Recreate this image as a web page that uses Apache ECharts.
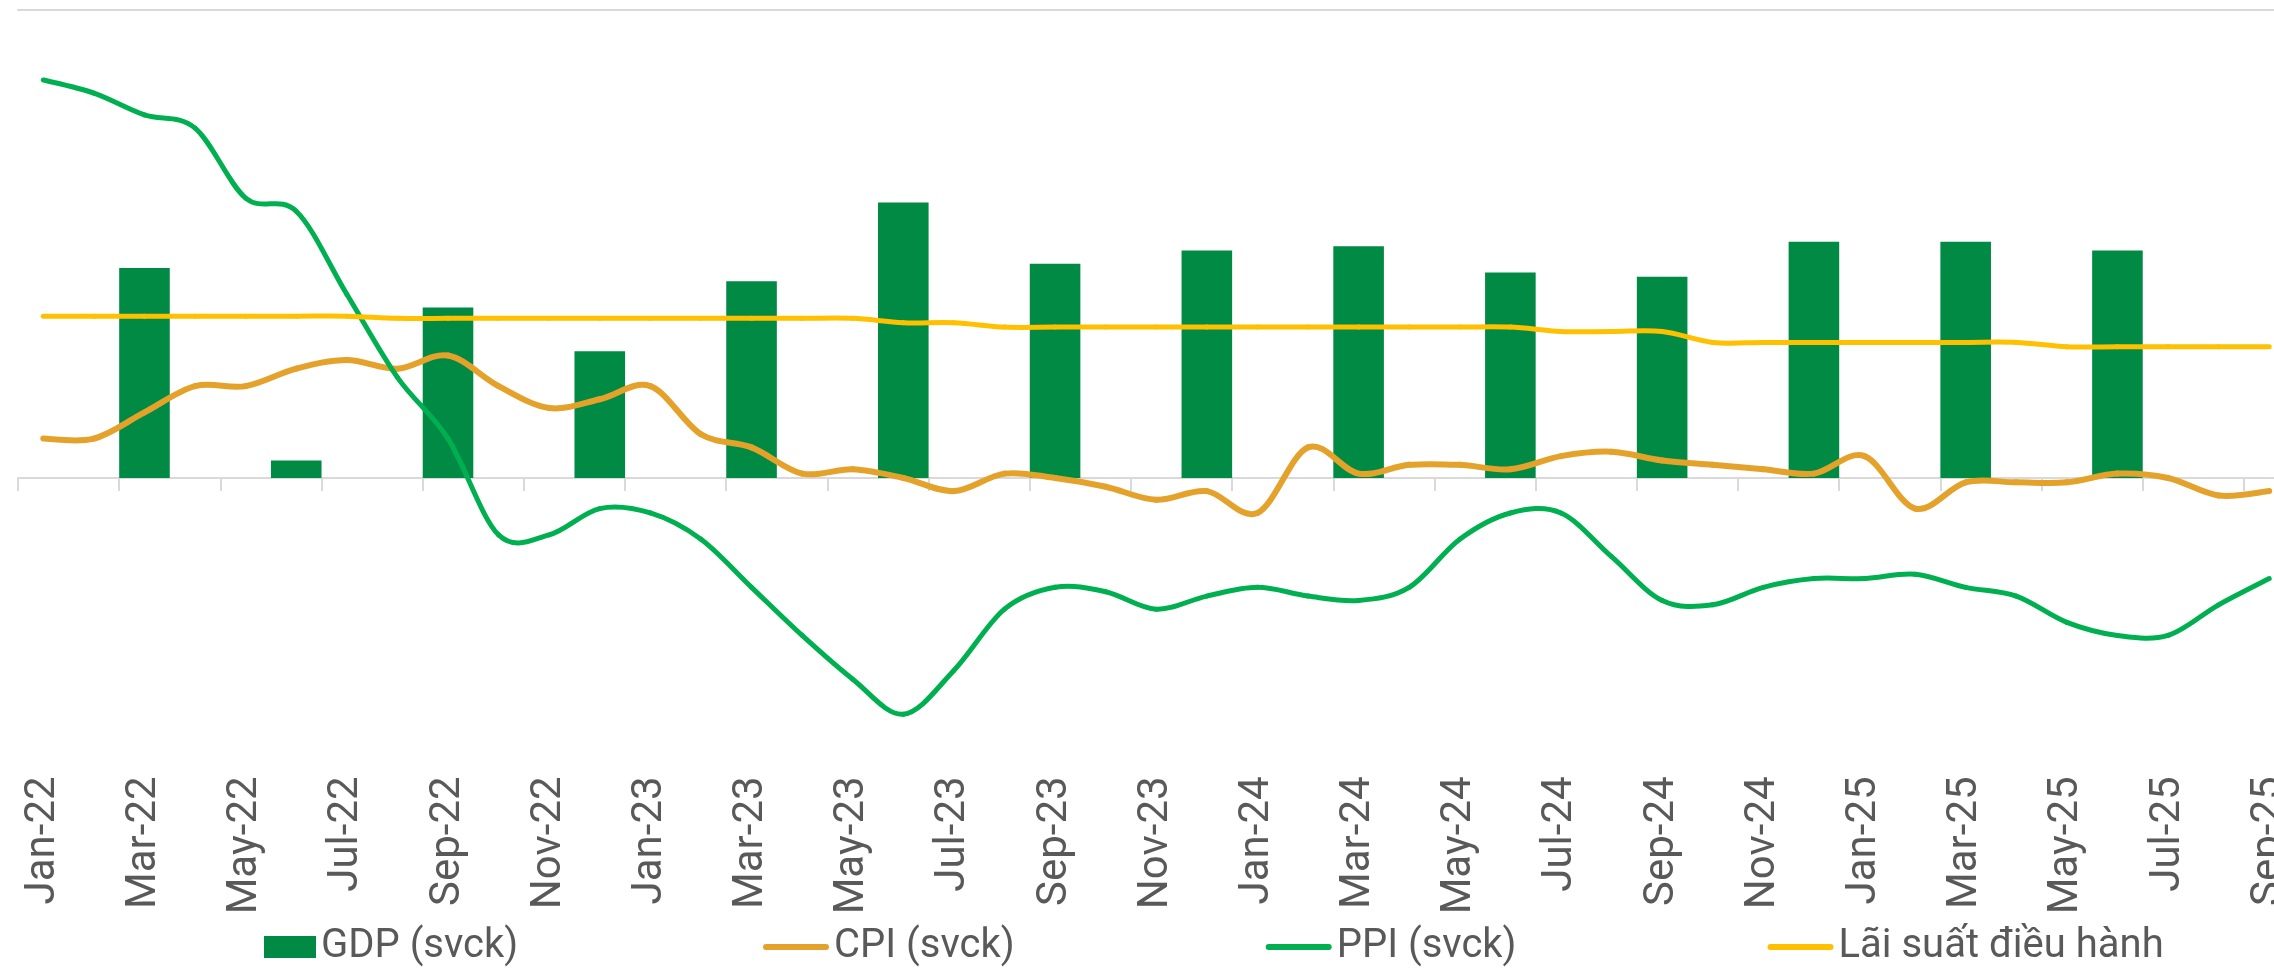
<!DOCTYPE html>
<html>
<head>
<meta charset="utf-8">
<script src="https://cdn.jsdelivr.net/npm/echarts@6/dist/echarts.min.js"></script>
<style>
html,body{margin:0;padding:0;background:#ffffff;}
#chart{width:2274px;height:971px;}
</style>
</head>
<body>
<div id="chart"></div>
<script>
// ---- Data ----
const months = [
  'Jan-22','Feb-22','Mar-22','Apr-22','May-22','Jun-22','Jul-22','Aug-22','Sep-22','Oct-22','Nov-22','Dec-22',
  'Jan-23','Feb-23','Mar-23','Apr-23','May-23','Jun-23','Jul-23','Aug-23','Sep-23','Oct-23','Nov-23','Dec-23',
  'Jan-24','Feb-24','Mar-24','Apr-24','May-24','Jun-24','Jul-24','Aug-24','Sep-24','Oct-24','Nov-24','Dec-24',
  'Jan-25','Feb-25','Mar-25','Apr-25','May-25','Jun-25','Jul-25','Aug-25','Sep-25'
];

// GDP growth (y/y), quarterly — shown on the last month of each quarter
const gdp = [
  null, null, 4.8, null, null, 0.4, null, null, 3.9, null, null, 2.9,
  null, null, 4.5, null, null, 6.3, null, null, 4.9, null, null, 5.2,
  null, null, 5.3, null, null, 4.7, null, null, 4.6, null, null, 5.4,
  null, null, 5.4, null, null, 5.2, null, null, null
];

// CPI (y/y)
const cpi = [
  0.9, 0.9, 1.5, 2.1, 2.1, 2.5, 2.7, 2.5, 2.8, 2.1, 1.6, 1.8,
  2.1, 1.0, 0.7, 0.1, 0.2, 0.0, -0.3, 0.1, 0.0, -0.2, -0.5, -0.3,
  -0.8, 0.7, 0.1, 0.3, 0.3, 0.2, 0.5, 0.6, 0.4, 0.3, 0.2, 0.1,
  0.5, -0.7, -0.1, -0.1, -0.1, 0.1, 0.0, -0.4, -0.3
];

// PPI (y/y)
const ppi = [
  9.1, 8.8, 8.3, 8.0, 6.4, 6.1, 4.2, 2.3, 0.9, -1.3, -1.3, -0.7,
  -0.8, -1.4, -2.5, -3.6, -4.6, -5.4, -4.4, -3.0, -2.5, -2.6, -3.0, -2.7,
  -2.5, -2.7, -2.8, -2.5, -1.4, -0.8, -0.8, -1.8, -2.8, -2.9, -2.5, -2.3,
  -2.3, -2.2, -2.5, -2.7, -3.3, -3.6, -3.6, -2.9, -2.3
];

// Policy rate
const policyRate = [
  3.7, 3.7, 3.7, 3.7, 3.7, 3.7, 3.7, 3.65, 3.65, 3.65, 3.65, 3.65,
  3.65, 3.65, 3.65, 3.65, 3.65, 3.55, 3.55, 3.45, 3.45, 3.45, 3.45, 3.45,
  3.45, 3.45, 3.45, 3.45, 3.45, 3.45, 3.35, 3.35, 3.35, 3.1, 3.1, 3.1,
  3.1, 3.1, 3.1, 3.1, 3.0, 3.0, 3.0, 3.0, 3.0
];

const seriesNames = ['GDP (svck)', 'CPI (svck)', 'PPI (svck)', 'Lãi suất điều hành'];

// ---- Chart ----
const chart = echarts.init(document.getElementById('chart'), null, {renderer: 'canvas'});

const axisGrey = '#d9d9d9';
const textGrey = '#595959';
const lineIcon = 'path://M3,0 H63 A3,3 0 0 1 63,6 H3 A3,3 0 0 1 3,0 Z';
const legendText = {fontFamily: 'Roboto', fontSize: 40, color: textGrey};

// Spline like a spreadsheet "smoothed line": Catmull-Rom segments as cubic Beziers,
// every point is placed through the chart's own axes (api.coord).
function splineSeries(name, values, color, width, z) {
  return {
    name: name,
    type: 'custom',
    coordinateSystem: 'cartesian2d',
    z: z,
    data: values.map((v, i) => [i, v]),
    encode: {x: 0, y: 1},
    itemStyle: {color: color},
    renderItem: function (params, api) {
      if (params.dataIndex !== 0) return null;
      const pts = values.map((v, i) => api.coord([i, v]));
      const children = [];
      const n = pts.length;
      for (let i = 0; i < n - 1; i++) {
        const p0 = pts[i - 1] || pts[i];
        const p1 = pts[i];
        const p2 = pts[i + 1];
        const p3 = pts[i + 2] || pts[i + 1];
        children.push({
          type: 'bezierCurve',
          shape: {
            x1: p1[0], y1: p1[1],
            cpx1: p1[0] + (p2[0] - p0[0]) / 6, cpy1: p1[1] + (p2[1] - p0[1]) / 6,
            cpx2: p2[0] - (p3[0] - p1[0]) / 6, cpy2: p2[1] - (p3[1] - p1[1]) / 6,
            x2: p2[0], y2: p2[1]
          },
          style: {fill: null, stroke: color, lineWidth: width, lineCap: 'round', lineJoin: 'round'}
        });
      }
      return {type: 'group', children: children};
    }
  };
}

const option = {
  animation: false,
  backgroundColor: '#ffffff',
  grid: {left: 18, right: -20.5, top: 10, bottom: 230.6, containLabel: false, outerBoundsMode: 'none'},
  legend: [
    {
      data: [{name: seriesNames[0], icon: 'rect'}],
      left: 264,
      top: 927,
      padding: 0,
      itemWidth: 52,
      itemHeight: 22,
      textStyle: legendText
    },
    {
      data: [
        {name: seriesNames[1], icon: lineIcon},
        {name: seriesNames[2], icon: lineIcon},
        {name: seriesNames[3], icon: lineIcon}
      ],
      left: 763,
      top: 927,
      padding: 0,
      itemGap: 251,
      itemWidth: 66,
      itemHeight: 22,
      textStyle: legendText
    }
  ],
  xAxis: [
    {
      type: 'category',
      data: months,
      position: 'bottom',
      boundaryGap: true,
      axisLine: {show: true, onZero: true, lineStyle: {color: axisGrey, width: 2}},
      axisTick: {show: true, interval: 1, length: 13, lineStyle: {color: axisGrey, width: 2}},
      axisLabel: {
        interval: 1, rotate: 90, margin: 36,
        fontFamily: 'Roboto', fontSize: 42, color: textGrey
      },
      splitLine: {show: false}
    },
    {
      type: 'category',
      data: months,
      position: 'top',
      boundaryGap: true,
      axisLine: {show: true, onZero: false, lineStyle: {color: axisGrey, width: 2}},
      axisTick: {show: false},
      axisLabel: {show: false},
      splitLine: {show: false}
    }
  ],
  yAxis: {
    type: 'value',
    min: -6,
    max: 10.7,
    show: false,
    splitLine: {show: false}
  },
  series: [
    {
      name: seriesNames[0],
      type: 'bar',
      z: 2,
      data: gdp,
      barCategoryGap: '0%',
      itemStyle: {color: '#008A44'}
    },
    splineSeries(seriesNames[1], cpi, '#E4A22B', 6, 3),
    splineSeries(seriesNames[2], ppi, '#00B050', 5, 4),
    splineSeries(seriesNames[3], policyRate, '#FFC000', 5, 5)
  ]
};

chart.setOption(option);
</script>
</body>
</html>
